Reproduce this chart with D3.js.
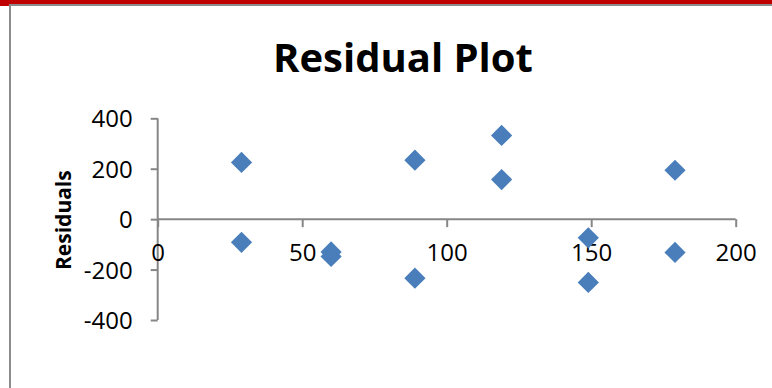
<!DOCTYPE html>
<html>
<head>
<meta charset="utf-8">
<script src="https://cdn.jsdelivr.net/npm/d3@7"></script>
<style>
  html, body { margin: 0; padding: 0; background: #fff; }
  svg { display: block; }
</style>
</head>
<body>
<svg id="chart" width="772" height="388"></svg>
<script>
// Residual plot data
const xValues   = [29, 29, 60, 60, 89, 89, 119, 119, 149, 149, 179, 179];
const residuals = [225, -92, -130, -148, 234, -234, 332, 157, -74, -251, 194, -132];
const xTicks = [0, 50, 100, 150, 200];
const yTicks = [-400, -200, 0, 200, 400];
const titleText = "Residual Plot";
const yLabelText = "Residuals";

const points = xValues.map((x, i) => ({ x, y: residuals[i] }));

const svg = d3.select("#chart");
const W = 772, H = 388;
const font = "'Open Sans', 'Noto Sans', sans-serif";

// window frame: red strip on top, grey border
svg.append("rect").attr("x", 0).attr("y", 0).attr("width", W).attr("height", 4).attr("fill", "#c00000");
svg.append("rect").attr("x", 0).attr("y", 0).attr("width", 9).attr("height", 6).attr("fill", "#c00000");
svg.append("path")
  .attr("d", `M${W},5 H10 V${H}`)
  .attr("fill", "none").attr("stroke", "#8c8c8c").attr("stroke-width", 2);

const x = d3.scaleLinear().domain([0, 200]).range([157.7, 735.7]);
const y = d3.scaleLinear().domain([-400, 400]).range([320, 118.3]);

const axisColor = "#868686";
const plainFormat = d => String(d);   // hyphen-minus, as in the worksheet

// y axis (left)
const yAxis = svg.append("g")
  .attr("transform", `translate(${x(0)},0)`)
  .call(d3.axisLeft(y).tickValues(yTicks).tickSize(7).tickPadding(18).tickFormat(plainFormat));

// x axis crossing at zero
const xAxis = svg.append("g")
  .attr("transform", `translate(0,${y(0)})`)
  .call(d3.axisBottom(x).tickValues(xTicks).tickSize(8).tickPadding(17).tickFormat(plainFormat));

[yAxis, xAxis].forEach(g => {
  g.select(".domain").attr("stroke", axisColor).attr("stroke-width", 2)
    .attr("d", g === yAxis ? `M0,${y(400)}V${y(-400)}` : `M${x(0)},0H${x(200)}`);
  g.selectAll(".tick line").attr("stroke", axisColor).attr("stroke-width", 2);
  g.selectAll(".tick text")
    .attr("fill", "#000")
    .style("font-family", font)
    .style("font-size", "24px");
});
yAxis.selectAll(".tick text").attr("dy", "0.36em");
xAxis.selectAll(".tick text").attr("dy", "0.71em");

// markers: diamonds
const diamond = d3.symbol().type(d3.symbolSquare).size(225);
svg.append("g").selectAll("path")
  .data(points)
  .join("path")
  .attr("d", diamond)
  .attr("transform", d => `translate(${x(d.x)},${y(d.y)}) rotate(45)`)
  .attr("fill", "#4a7ebb");

// title
svg.append("text")
  .attr("x", 403).attr("y", 72)
  .attr("text-anchor", "middle")
  .style("font-family", font)
  .style("font-weight", "bold")
  .style("font-size", "40px")
  .attr("fill", "#000")
  .text(titleText);

// y axis title
svg.append("text")
  .attr("transform", `translate(70.5,${y(0) + 1}) rotate(-90)`)
  .attr("text-anchor", "middle")
  .style("font-family", font)
  .style("font-weight", "bold")
  .style("font-size", "21px")
  .attr("fill", "#000")
  .text(yLabelText);
</script>
</body>
</html>
